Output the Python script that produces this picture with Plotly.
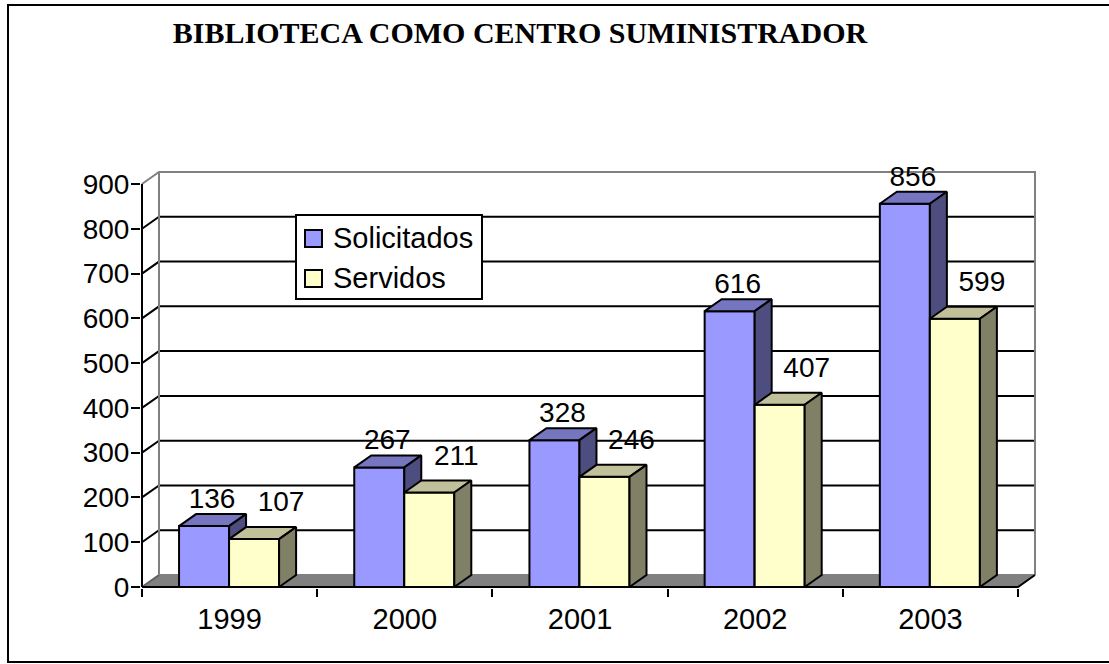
import plotly.graph_objects as go

# ---------------- data ----------------
years = ["1999", "2000", "2001", "2002", "2003"]
solicitados = [136, 267, 328, 616, 856]
servidos = [107, 211, 246, 407, 599]
series_names = ["Solicitados", "Servidos"]
y_ticks = [0, 100, 200, 300, 400, 500, 600, 700, 800, 900]

# ---------------- geometry (pixel calibration) ----------------
W, H = 1109, 664
PX0, PY0 = 142, 587          # pixel of data origin (x=0, y=0)
SX = 175.2                   # px per category
SY = 403 / 900               # px per value unit
DX = 17 / SX                 # depth offset in x units
DY = 12 / SY                 # depth offset in y units
L, R, T, B = 141, 1040, 168, 588
xr = [(L - PX0) / SX, (R - PX0) / SX]
yr = [(PY0 - B) / SY, (PY0 - T) / SY]
YMAX = y_ticks[-1]
NC = len(years)

BW = 0.2855
GC = 0.497

face_colors = {
    "Solicitados": ("#9999FF", "#7575C0", "#4D4D80"),
    "Servidos": ("#FFFFCC", "#C0C09A", "#808066"),
}


def px_x(p):
    return (p - L) / (R - L)


def px_y(p):
    return (B - p) / (B - T)


fig = go.Figure()


def poly(xs, ys, fill, lw=2, lc="black"):
    fig.add_trace(go.Scatter(
        x=list(xs) + [xs[0]], y=list(ys) + [ys[0]], mode="lines",
        fill="toself", fillcolor=fill,
        line=dict(color=lc, width=lw), hoverinfo="skip", showlegend=False))


def line(xs, ys, color="black", width=2):
    fig.add_trace(go.Scatter(x=xs, y=ys, mode="lines",
                             line=dict(color=color, width=width),
                             hoverinfo="skip", showlegend=False))


# floor
poly([0, NC, NC + DX, DX], [0, 0, DY, DY], "#808080", lw=0, lc="rgba(0,0,0,0)")
line([DX, NC + DX], [DY, DY], color="#808080")
line([0, DX], [0, DY], color="#606060")

# gridlines on side and back wall
for v in y_ticks[1:-1]:
    line([0, DX, NC + DX], [v, v + DY, v + DY], color="black")
# wall borders (gray)
line([0, DX, NC + DX, NC + DX], [YMAX, YMAX + DY, YMAX + DY, DY], color="#808080")
line([DX, DX], [DY, YMAX + DY], color="#808080")

# front axes
line([0, 0], [0, YMAX], color="black")
line([0, NC, NC + DX], [0, 0, DY], color="black")

# bars
for c in range(NC):
    for si, (name, vals) in enumerate(zip(series_names, [solicitados, servidos])):
        h = vals[c]
        x0 = c + GC - BW + si * BW
        x1 = x0 + BW
        fc, tc, sc = face_colors[name]
        poly([x0, x1, x1, x0], [0, 0, h, h], fc)
        poly([x0, x1, x1 + DX, x0 + DX], [h, h, h + DY, h + DY], tc)
        poly([x1, x1 + DX, x1 + DX, x1], [0, DY, h + DY, h], sc)

# data labels
lab_dx = [8 / SX, 27 / SX]
lab_dy = [25 / SY, 35 / SY]
for si, vals in enumerate([solicitados, servidos]):
    xs = [c + GC - BW + si * BW + BW / 2 + lab_dx[si] for c in range(NC)]
    ys = [v + lab_dy[si] for v in vals]
    fig.add_trace(go.Scatter(
        x=xs, y=ys, mode="text", text=[str(v) for v in vals],
        textposition="middle center", cliponaxis=False,
        textfont=dict(family="Liberation Sans, Arial", size=28, color="black"),
        hoverinfo="skip", showlegend=False))

# legend (box, swatches and labels)
shapes = [dict(type="rect", xref="paper", yref="paper",
               x0=px_x(296), x1=px_x(482), y0=px_y(299), y1=px_y(215),
               line=dict(color="black", width=2), fillcolor="white", layer="above")]
annotations = []
for i, name in enumerate(series_names):
    cy = 238 + 40 * i
    shapes.append(dict(type="rect", xref="paper", yref="paper",
                       x0=px_x(305), x1=px_x(322), y0=px_y(cy + 9), y1=px_y(cy - 8),
                       line=dict(color="black", width=2),
                       fillcolor=face_colors[name][0], layer="above"))
    annotations.append(dict(xref="paper", yref="paper", x=px_x(331), y=px_y(cy),
                            xanchor="left", yanchor="middle", showarrow=False,
                            text=name,
                            font=dict(family="Liberation Sans, Arial", size=29,
                                      color="black")))

# outer frame
shapes.append(dict(type="rect", xref="paper", yref="paper",
                   x0=px_x(8), x1=px_x(1112), y0=px_y(662), y1=px_y(5),
                   line=dict(color="black", width=2), fillcolor="rgba(0,0,0,0)"))

fig.update_layout(
    width=W, height=H,
    margin=dict(l=L, r=W - R, t=T, b=H - B, pad=0),
    paper_bgcolor="white", plot_bgcolor="white",
    showlegend=False,
    font=dict(family="Liberation Sans, Arial", size=28, color="black"),
    title=dict(text="BIBLIOTECA COMO CENTRO SUMINISTRADOR",
               font=dict(family="Liberation Serif, Times New Roman", size=30,
                         color="black", weight="bold"),
               xref="container", yref="container",
               x=520 / W, xanchor="center", y=1 - 32 / H, yanchor="middle"),
    xaxis=dict(range=xr, showgrid=False, zeroline=False, showline=False,
               tickmode="array", tickvals=[c + 0.5 for c in range(NC)],
               ticktext=years, ticks="outside", ticklen=8,
               tickcolor="rgba(0,0,0,0)",
               tickfont=dict(size=29), ticklabelstandoff=-3,
               minor=dict(tickmode="array", tickvals=list(range(NC + 1)),
                          ticks="outside", ticklen=8, tickwidth=2,
                          tickcolor="black", showgrid=False),
               fixedrange=True),
    yaxis=dict(range=yr, showgrid=False, zeroline=False, showline=False,
               tickmode="array", tickvals=y_ticks,
               ticktext=[str(v) for v in y_ticks],
               ticks="outside", ticklen=9, tickwidth=2, tickcolor="black",
               ticklabelstandoff=-4,
               fixedrange=True),
    shapes=shapes,
    annotations=annotations,
)

fig.write_html("out.html", config={"displayModeBar": False},
               post_script="document.body.style.margin='0';document.body.style.overflow='hidden';")
